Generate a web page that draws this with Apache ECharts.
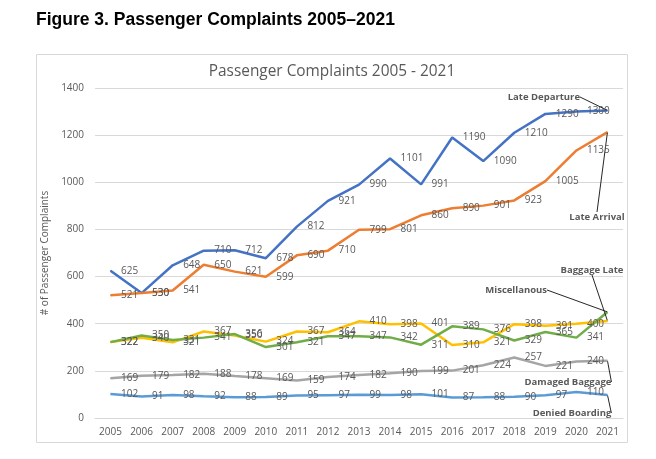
<!DOCTYPE html>
<html>
<head>
<meta charset="utf-8">
<script src="https://cdn.jsdelivr.net/npm/echarts@6/dist/echarts.min.js"></script>
<style>
  html, body { margin: 0; padding: 0; background: #fff; }
  #chart { width: 656px; height: 459px; }
</style>
</head>
<body>
<div id="chart"></div>
<script>
const years = ['2005', '2006', '2007', '2008', '2009', '2010', '2011', '2012', '2013', '2014', '2015', '2016', '2017', '2018', '2019', '2020', '2021'];

const lateDeparture = [625, 530, 648, 710, 712, 678, 812, 921, 990, 1101, 991, 1190, 1090, 1210, 1290, 1300, 1305];
const lateArrival = [521, 530, 541, 650, 621, 599, 690, 710, 799, 801, 860, 890, 901, 923, 1005, 1135, 1213];
const damagedBaggage = [169, 179, 182, 188, 178, 169, 159, 174, 182, 190, 199, 201, 224, 257, 221, 240, 243];
const baggageLate = [322, 340, 321, 367, 350, 324, 367, 364, 410, 398, 401, 310, 321, 398, 391, 400, 412];
const deniedBoarding = [102, 91, 98, 92, 88, 89, 95, 97, 99, 98, 101, 87, 88, 90, 97, 110, 98];
const miscellanous = [322, 350, 331, 341, 356, 301, 321, 347, 347, 342, 311, 389, 376, 329, 365, 341, 450];

const yTicks = { min: 0, max: 1400, interval: 200 };

// where the series name callouts sit (last point of each line)
const callouts = {
  'Late Departure': { x: 580, y: 97, align: 'right' },
  'Late Arrival': { x: 597, y: 217, align: 'center' },
  'Damaged Baggage': { x: 568, y: 382, align: 'center' },
  'Baggage Late': { x: 592, y: 270, align: 'center' },
  'Denied Boarding': { x: 572, y: 413, align: 'center' },
  'Miscellanous': { x: 547, y: 290, align: 'right' }
};

const textColor = '#595959';
const chartFont = '"Open Sans", sans-serif';

const makeSeries = (name, values, color) => ({
  name: name,
  type: 'line',
  symbol: 'circle',
  symbolSize: 1,
  itemStyle: { color: color },
  lineStyle: { color: color, width: 2.5 },
  label: {
    show: true,
    position: 'right',
    distance: 10,
    color: textColor,
    fontSize: 10,
    fontFamily: chartFont
  },
  labelLayout: (params) => {
    if (params.dataIndex !== values.length - 1) return {};
    const c = callouts[name];
    return { x: c.x, y: c.y, align: c.align, verticalAlign: 'middle' };
  },
  data: values.map((v, i) => {
    if (i !== values.length - 1) return v;
    return {
      value: v,
      label: { formatter: name, fontWeight: 'bold', fontSize: 9.5 },
      labelLine: { show: true, lineStyle: { color: '#262626', width: 1 } }
    };
  }),
  emphasis: { disabled: true },
  silent: true
});

const chart = echarts.init(document.getElementById('chart'));
chart.setOption({
  animation: false,
  backgroundColor: '#fff',
  title: [
    {
      text: 'Figure 3. Passenger Complaints 2005–2021',
      left: 36,
      top: 11,
      padding: 0,
      textStyle: { fontFamily: '"Liberation Sans", Arial, sans-serif', fontWeight: 'bold', fontSize: 17.5, color: '#000' }
    },
    {
      text: 'Passenger Complaints 2005 - 2021',
      left: 332,
      top: 64,
      padding: 0,
      textAlign: 'center',
      textStyle: { fontFamily: chartFont, fontWeight: 'normal', fontSize: 15.4, color: textColor }
    }
  ],
  graphic: [
    {
      type: 'rect',
      shape: { x: 36.5, y: 54.5, width: 591, height: 388 },
      style: { fill: 'none', stroke: '#d9d9d9', lineWidth: 1 },
      silent: true
    }
  ],
  grid: { left: 95, right: 33, top: 88, bottom: 41 },
  xAxis: {
    type: 'category',
    data: years,
    boundaryGap: true,
    axisLine: { lineStyle: { color: '#d9d9d9' } },
    axisTick: { show: false },
    axisLabel: { color: textColor, fontSize: 10, fontFamily: chartFont, margin: 9 }
  },
  yAxis: {
    type: 'value',
    min: yTicks.min,
    max: yTicks.max,
    interval: yTicks.interval,
    name: '# of Passenger Complaints',
    nameLocation: 'middle',
    nameGap: 35,
    nameTextStyle: { color: textColor, fontSize: 10, fontFamily: chartFont },
    axisLine: { show: false },
    axisTick: { show: false },
    splitLine: { lineStyle: { color: '#d9d9d9' } },
    axisLabel: { color: textColor, fontSize: 10, fontFamily: chartFont, margin: 11, formatter: (v) => String(v) }
  },
  series: [
    makeSeries('Late Departure', lateDeparture, '#4472c4'),
    makeSeries('Late Arrival', lateArrival, '#ed7d31'),
    makeSeries('Damaged Baggage', damagedBaggage, '#a5a5a5'),
    makeSeries('Baggage Late', baggageLate, '#ffc000'),
    makeSeries('Denied Boarding', deniedBoarding, '#5b9bd5'),
    makeSeries('Miscellanous', miscellanous, '#70ad47')
  ]
});
</script>
</body>
</html>
